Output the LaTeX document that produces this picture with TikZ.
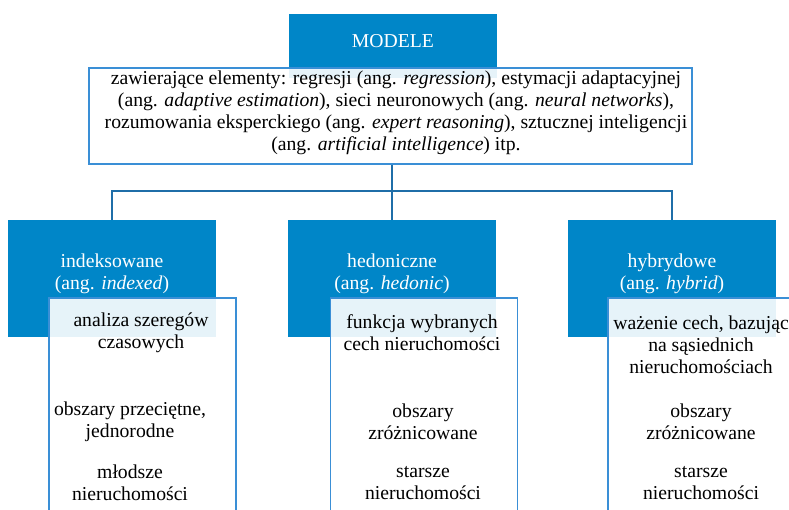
\documentclass[tikz,border=0pt]{standalone}
\usepackage{fontspec}
\setmainfont{Liberation Serif}
\usetikzlibrary{calc}

\definecolor{modblue}{RGB}{0,134,200}
\definecolor{linkblue}{RGB}{31,110,168}
\definecolor{edgeblue}{RGB}{58,143,214}

\tikzset{
  bluebox/.style={fill=modblue, draw=none, inner sep=0pt},
  whitebox/.style={draw=edgeblue, line width=1pt, fill=white, fill opacity=0.9, text opacity=1, inner sep=0pt},
  headtext/.style={text=white, align=center, font=\fontsize{14}{15.6}\selectfont},
  bodytext/.style={align=center, font=\fontsize{14}{15.6}\selectfont},
  link/.style={draw=linkblue, line width=1.4pt}
}

\begin{document}
\begin{tikzpicture}[x=0.025cm, y=-0.025cm]
\clip (0,0) rectangle (789,510);
%\draw[help lines,step=50] (0,0) grid (789,510);

% top
\node[bluebox, minimum width=5.2cm, minimum height=1.6cm] (modele) at (393,46) {};
\node[headtext] (modelet) at (393,41) {MODELE};
\node[whitebox, minimum width=15.075cm, minimum height=2.4cm] (desc) at (390.5,116) {};
\node[bodytext] (desct) at (396,113) {zawierające elementy: regresji (ang. \textit{regression}), estymacji adaptacyjnej\\
(ang. \textit{adaptive estimation}), sieci neuronowych (ang. \textit{neural networks}),\\
rozumowania eksperckiego (ang. \textit{expert reasoning}), sztucznej inteligencji\\
(ang. \textit{artificial intelligence}) itp.};

% three kinds
\node[bluebox, minimum width=5.2cm, minimum height=2.925cm] (ind) at (112,278.5) {};
\node[bluebox, minimum width=5.2cm, minimum height=2.925cm] (hed) at (392,278.5) {};
\node[bluebox, minimum width=5.2cm, minimum height=2.925cm] (hyb) at (672,278.5) {};
\node[headtext] (indt) at (112,274) {indeksowane\\(ang. \textit{indexed})};
\node[headtext] (hedt) at (392,274) {hedoniczne\\(ang. \textit{hedonic})};
\node[headtext] (hybt) at (672,274) {hybrydowe\\(ang. \textit{hybrid})};

\coordinate (hub) at (392,191);
\draw[link] (hub |- desc.south) -- (hub);
\draw[link] (ind.north) |- (hub) -| (hyb.north);
\draw[link] (hub) -- (hed.north);

% lists
\node[whitebox, minimum width=4.675cm, minimum height=6.5cm] (indl) at (142.5,428) {};
\node[whitebox, minimum width=4.675cm, minimum height=6.5cm] (hedl) at (424,428) {};
\node[whitebox, minimum width=4.675cm, minimum height=6.5cm] (hybl) at (701.5,428) {};

\node[bodytext] (ind1) at (141,333) {analiza szeregów\\czasowych};
\node[bodytext] (ind2) at (130,422) {obszary przeciętne,\\jednorodne};
\node[bodytext] (ind3) at (130,483) {młodsze\\nieruchomości};

\node[bodytext] (hed1) at (422,333) {funkcja wybranych\\cech nieruchomości};
\node[bodytext] (hed2) at (423,422) {obszary\\zróżnicowane};
\node[bodytext] (hed3) at (423,483) {starsze\\nieruchomości};

\node[bodytext] (hyb1) at (701,345) {ważenie cech, bazując\\na sąsiednich\\nieruchomościach};
\node[bodytext] (hyb2) at (701,422) {obszary\\zróżnicowane};
\node[bodytext] (hyb3) at (701,483) {starsze\\nieruchomości};
\end{tikzpicture}
\end{document}
